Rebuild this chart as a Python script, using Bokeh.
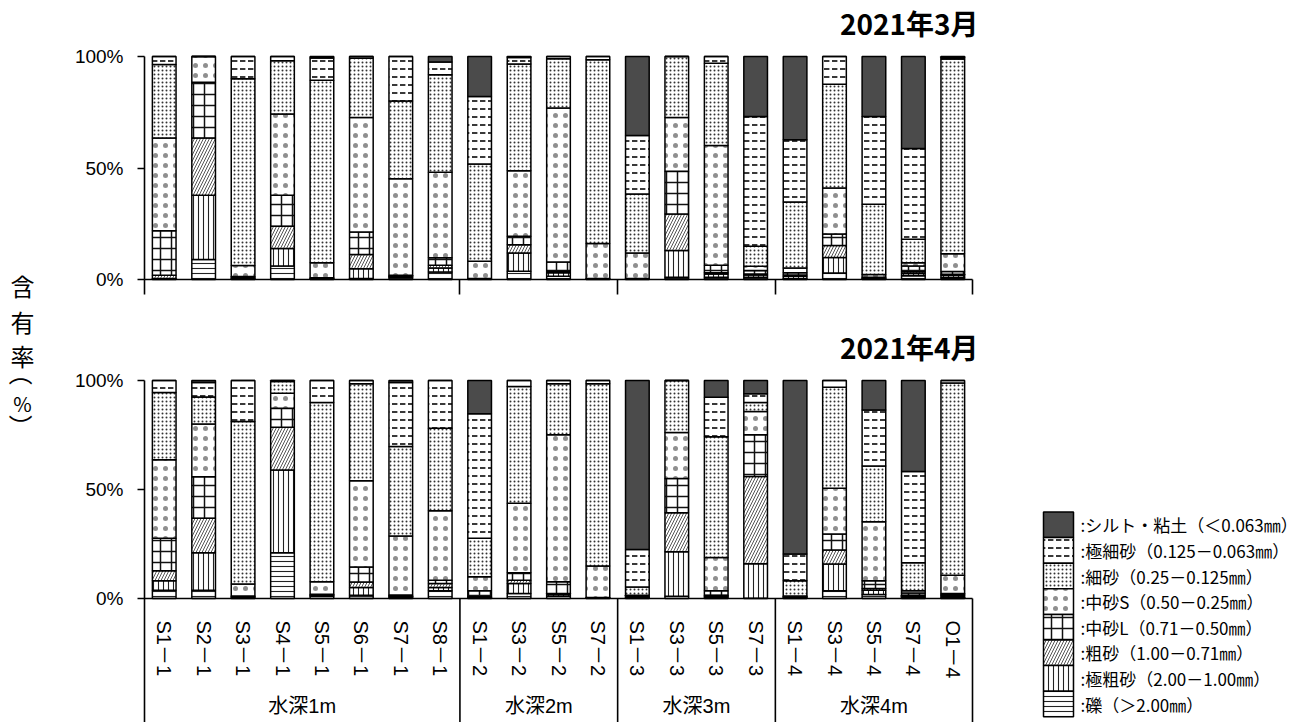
import math
import numpy as np
from bokeh.plotting import figure
from bokeh.models import (ColumnDataSource, Range1d, FixedTicker, LinearAxis,
                          Label, PrintfTickFormatter)
from bokeh.layouts import column
from bokeh.core.properties import value
from bokeh.embed import file_html
from bokeh.resources import INLINE

# ---- categories -------------------------------------------------------------
samples = ["S1－1", "S2－1", "S3－1", "S4－1", "S5－1", "S6－1", "S7－1", "S8－1",
           "S1－2", "S3－2", "S5－2", "S7－2",
           "S1－3", "S3－3", "S5－3", "S7－3",
           "S1－4", "S3－4", "S5－4", "S7－4", "O1－4"]
depth_groups = ["水深1m", "水深2m", "水深3m", "水深4m"]
group_sizes = [8, 4, 4, 5]

# grain-size classes, stacked from the bottom of each bar upward
classes = ["gravel", "vcoarse", "coarse", "medium_l", "medium_s", "fine", "vfine", "silt"]
class_labels = {
    "silt": ":シルト・粘土（＜0.063㎜）",
    "vfine": ":極細砂（0.125－0.063㎜）",
    "fine": ":細砂（0.25－0.125㎜）",
    "medium_s": ":中砂S（0.50－0.25㎜）",
    "medium_l": ":中砂L（0.71－0.50㎜）",
    "coarse": ":粗砂（1.00－0.71㎜）",
    "vcoarse": ":極粗砂（2.00－1.00㎜）",
    "gravel": ":礫（＞2.00㎜）",
}

# ---- content (%) : March 2021 ----------------------------------------------
mar_gravel   = [0.4, 9.0, 0.3, 6.0, 0.3, 0.5, 1.0, 3.4, 0.2, 3.7, 1.5, 0.2, 0.1, 1.0, 1.0, 1.0, 0.5, 2.9, 0.3, 1.7, 0.8]
mar_vcoarse  = [0.0, 28.8, 0.3, 7.9, 0.2, 4.3, 0.3, 1.8, 0.1, 8.2, 1.5, 0.1, 0.1, 12.0, 1.5, 1.0, 1.0, 7.0, 0.2, 1.0, 1.0]
mar_coarse   = [1.5, 25.6, 0.2, 10.0, 0.1, 6.4, 0.2, 1.2, 0.0, 3.7, 0.7, 0.1, 0.1, 16.4, 0.5, 0.5, 0.5, 5.4, 0.2, 0.8, 0.6]
mar_medium_l = [20.0, 25.1, 0.5, 13.9, 0.2, 10.1, 0.4, 3.3, 0.1, 3.8, 4.2, 0.0, 0.1, 19.1, 3.4, 1.5, 1.0, 5.1, 0.3, 2.5, 1.2]
mar_medium_s = [41.5, 11.5, 5.0, 36.4, 6.7, 51.3, 43.3, 38.4, 7.8, 29.4, 69.0, 15.7, 11.5, 24.2, 53.7, 1.9, 2.2, 20.6, 1.2, 1.5, 7.9]
mar_fine     = [33.0, 0.0, 83.7, 23.9, 81.8, 26.6, 34.9, 43.7, 43.6, 47.8, 22.1, 82.4, 26.4, 27.3, 36.9, 9.0, 29.6, 46.6, 31.6, 10.5, 87.4]
mar_vfine    = [3.6, 0.0, 10.0, 1.9, 10.0, 0.8, 19.9, 5.7, 30.3, 3.0, 1.0, 1.5, 26.3, 0.0, 3.0, 58.2, 27.9, 12.4, 39.3, 40.7, 0.6]
mar_silt     = [0.0, 0.0, 0.0, 0.0, 0.7, 0.0, 0.0, 2.5, 17.9, 0.4, 0.0, 0.0, 35.4, 0.0, 0.0, 26.9, 37.3, 0.0, 26.9, 41.3, 0.5]

# ---- content (%) : April 2021 ----------------------------------------------
apr_gravel   = [3.8, 3.8, 0.4, 21.0, 1.0, 1.5, 0.5, 3.6, 0.5, 2.3, 1.0, 0.2, 0.3, 1.0, 0.7, 0.1, 0.3, 3.5, 1.8, 0.5, 0.6]
apr_vcoarse  = [4.3, 17.2, 0.3, 38.0, 0.3, 3.5, 0.5, 1.5, 0.2, 4.6, 0.8, 0.1, 0.2, 20.4, 0.5, 15.8, 0.3, 12.3, 2.0, 0.5, 0.7]
apr_coarse   = [4.6, 15.8, 0.2, 19.6, 0.2, 2.6, 0.3, 1.8, 0.1, 1.5, 0.5, 0.1, 0.2, 17.9, 0.3, 40.1, 0.2, 6.4, 0.8, 0.5, 0.4]
apr_medium_l = [14.9, 19.1, 0.2, 8.7, 0.4, 6.9, 0.3, 1.5, 2.8, 3.4, 5.4, 0.1, 0.3, 15.8, 2.0, 19.1, 0.1, 7.4, 3.5, 1.0, 0.6]
apr_medium_s = [36.0, 24.2, 5.5, 6.9, 5.8, 39.5, 27.1, 31.9, 6.4, 31.9, 67.4, 14.4, 0.5, 21.0, 15.3, 10.7, 0.2, 21.0, 27.1, 1.0, 8.4]
apr_fine     = [30.9, 12.3, 74.6, 5.3, 82.2, 44.5, 41.0, 37.8, 17.6, 53.5, 23.4, 83.6, 3.8, 23.9, 55.4, 4.1, 7.0, 46.3, 25.6, 12.9, 88.1]
apr_vfine    = [5.5, 6.7, 18.8, 0.5, 10.1, 1.5, 29.4, 21.9, 57.1, 2.8, 1.5, 1.5, 17.2, 0.0, 18.1, 4.0, 12.3, 3.1, 25.7, 41.8, 1.2]
apr_silt     = [0.0, 0.9, 0.0, 0.0, 0.0, 0.0, 0.9, 0.0, 15.3, 0.0, 0.0, 0.0, 77.5, 0.0, 7.7, 6.1, 79.6, 0.0, 13.5, 41.8, 0.0]

march = dict(zip(classes, [mar_gravel, mar_vcoarse, mar_coarse, mar_medium_l,
                           mar_medium_s, mar_fine, mar_vfine, mar_silt]))
april = dict(zip(classes, [apr_gravel, apr_vcoarse, apr_coarse, apr_medium_l,
                           apr_medium_s, apr_fine, apr_vfine, apr_silt]))

# ---- styling ----------------------------------------------------------------
JP_FONT = "Noto Sans CJK JP"
NUM_FONT = "Liberation Sans"
MIX_FONT = "'Liberation Sans', 'Noto Sans CJK JP'"

styles = {
    "silt":     dict(fill_color="#4b4b4b"),
    "vfine":    dict(fill_color="white", hatch_pattern="horizontal_dash", hatch_scale=8,
                     hatch_weight=1.8, hatch_color="#222222"),
    "fine":     dict(fill_color="white", hatch_pattern="dot", hatch_scale=4,
                     hatch_weight=1.6, hatch_color="#333333"),
    "medium_s": dict(fill_color="white", hatch_pattern="dot", hatch_scale=10,
                     hatch_weight=1.0, hatch_color="#8f8f8f"),
    "medium_l": dict(fill_color="white", hatch_pattern="cross", hatch_scale=11,
                     hatch_weight=1.5, hatch_color="#111111"),
    "coarse":   dict(fill_color="white", hatch_pattern="right_diagonal_line", hatch_scale=6,
                     hatch_weight=1.0, hatch_color="#555555"),
    "vcoarse":  dict(fill_color="white", hatch_pattern="vertical_line", hatch_scale=5,
                     hatch_weight=1.1, hatch_color="#222222"),
    "gravel":   dict(fill_color="white", hatch_pattern="horizontal_line", hatch_scale=5,
                     hatch_weight=1.1, hatch_color="#222222"),
}

n = len(samples)
x_pos = list(range(n))
bounds = [float(b) for b in np.cumsum([0] + group_sizes) - 0.5]
group_centers = [(bounds[i] + bounds[i + 1]) / 2 for i in range(len(depth_groups))]

# canvas geometry: the plotting frame fills each canvas, axes sit at fixed data spots
W = 1304
H_TOP, H_BOT = 303, 419
PX_LEFT, PX_RIGHT = 144, 972
unit_x = (PX_RIGHT - PX_LEFT) / n
x_start = -0.5 - PX_LEFT / unit_x
x_end = x_start + W / unit_x


def px_x(px):
    return x_start + px / unit_x


def y_range_for(height, px_top, px_zero):
    unit_y = (px_zero - px_top) / 100.0
    return Range1d(-(height - px_zero) / unit_y, 100.0 + px_top / unit_y), unit_y


def stacked_source(month):
    data = {"x": x_pos}
    base = np.zeros(n)
    for key in classes:
        vals = np.asarray(month[key], dtype=float)
        data[key + "_bottom"] = base.copy()
        base = base + vals
        data[key + "_top"] = base.copy()
    return ColumnDataSource(data)


def base_figure(height, y_range, y_bounds):
    p = figure(width=W, height=height, x_range=Range1d(x_start, x_end), y_range=y_range,
               output_backend="svg", toolbar_location=None,
               x_axis_location=None, y_axis_location=None, min_border=0,
               min_border_left=0, min_border_right=0, min_border_top=0, min_border_bottom=0)
    p.xgrid.visible = False
    p.ygrid.visible = False
    p.outline_line_color = None
    p.background_fill_color = "white"
    p.border_fill_color = "white"

    yax = LinearAxis(fixed_location=-0.5, bounds=y_bounds,
                     ticker=FixedTicker(ticks=[0, 50, 100]),
                     formatter=PrintfTickFormatter(format="%d%%"))
    yax.major_tick_out = 7
    yax.major_tick_in = 0
    yax.minor_tick_line_color = None
    yax.axis_line_width = 1.6
    yax.major_tick_line_width = 1.6
    yax.major_label_standoff = 14
    yax.major_label_text_font = NUM_FONT
    yax.major_label_text_font_size = "19px"
    yax.major_label_text_color = "black"
    p.add_layout(yax, "left")
    return p


def draw_bars(p, src):
    for key in classes:
        p.vbar(x="x", width=0.6, bottom=key + "_bottom", top=key + "_top",
               source=src, line_color="black", line_width=1.5, **styles[key])


def text_label(p, x, y, text, size, align="center", bold=False, angle=0.0):
    p.add_layout(Label(x=x, y=y, x_units="screen", y_units="screen", text=text,
                       angle=angle, text_align=align, text_baseline="middle",
                       text_font=JP_FONT, text_font_size=size,
                       text_font_style="bold" if bold else "normal", text_color="black"))


# ---- upper panel: March ------------------------------------------------------
y_rng_top, _ = y_range_for(H_TOP, 56, 279)
top = base_figure(H_TOP, y_rng_top, (0, 100))
draw_bars(top, stacked_source(march))

xax_top = LinearAxis(fixed_location=0, bounds=(bounds[0], bounds[-1]),
                     ticker=FixedTicker(ticks=bounds))
xax_top.major_label_overrides = {b: "" for b in bounds}
xax_top.major_label_text_font_size = "1px"
xax_top.major_label_standoff = 0
xax_top.major_tick_out = 15
xax_top.major_tick_in = 0
xax_top.minor_tick_line_color = None
xax_top.axis_line_width = 1.6
xax_top.major_tick_line_width = 1.6
top.add_layout(xax_top, "below")

text_label(top, 978, H_TOP - 22, "2021年3月", "28px", align="right", bold=True)
text_label(top, 22, H_TOP - 285, "含", "24px")

# ---- lower panel: April, with the sample / depth axis ---------------------
y_rng, unit_y_bot = y_range_for(H_BOT, 380 - H_TOP, 598 - H_TOP)
y_low, y_high = y_rng.start, y_rng.end
bottom = base_figure(H_BOT, y_rng, (y_low, 100))
draw_bars(bottom, stacked_source(april))


def px_y_bottom(py):
    return y_high - (py - H_TOP) / unit_y_bot


xax = LinearAxis(fixed_location=0, bounds=(bounds[0], bounds[-1]),
                 ticker=FixedTicker(ticks=x_pos))
xax.major_label_overrides = {i: s for i, s in zip(x_pos, samples)}
xax.major_label_orientation = "vertical"
xax.major_tick_line_color = None
xax.minor_tick_line_color = None
xax.major_label_standoff = 16
xax.major_label_text_font = MIX_FONT
xax.major_label_text_font_size = "20px"
xax.major_label_text_color = "black"
xax.axis_line_width = 1.6
bottom.add_layout(xax, "below")

# depth group boxes and names
bottom.segment(x0=bounds[1:], y0=[0] * (len(bounds) - 1), x1=bounds[1:],
               y1=[y_low] * (len(bounds) - 1), line_color="black", line_width=1.6)
bottom.text(x=group_centers, y=[px_y_bottom(705)] * len(depth_groups), text=depth_groups,
            text_align="center", text_baseline="middle", text_font=value(MIX_FONT),
            text_font_size="20px", text_color="black")

text_label(bottom, 978, 722 - 346, "2021年4月", "28px", align="right", bold=True)

# vertical axis title written top-to-bottom
text_label(bottom, 22, 722 - 321, "有", "24px")
text_label(bottom, 22, 722 - 355, "率", "24px")
text_label(bottom, 22, 722 - 373, "（", "24px", angle=-math.pi / 2)
text_label(bottom, 22, 722 - 403, "%", "20px")
text_label(bottom, 22, 722 - 426, "）", "24px", angle=-math.pi / 2)

# key: swatches stacked edge to edge, finest class on top
LEG_X0, LEG_X1, LEG_TOP, LEG_ROW = 1043, 1073, 511.5, 25.6
legend_order = list(reversed(classes))
for i, key in enumerate(legend_order):
    y0 = LEG_TOP + i * LEG_ROW
    bottom.quad(left=[px_x(LEG_X0)], right=[px_x(LEG_X1)],
                top=[px_y_bottom(y0)], bottom=[px_y_bottom(y0 + LEG_ROW)],
                line_color="black", line_width=1.5, **styles[key])
bottom.text(x=[px_x(LEG_X1 + 7)] * len(legend_order),
            y=[px_y_bottom(LEG_TOP + (i + 0.5) * LEG_ROW) for i in range(len(legend_order))],
            text=[class_labels[k] for k in legend_order],
            text_align="left", text_baseline="middle", text_font=value(JP_FONT),
            text_font_size="17px", text_color="black")

layout = column(top, bottom, spacing=0)
open("out.html", "w").write(file_html(layout, INLINE))
